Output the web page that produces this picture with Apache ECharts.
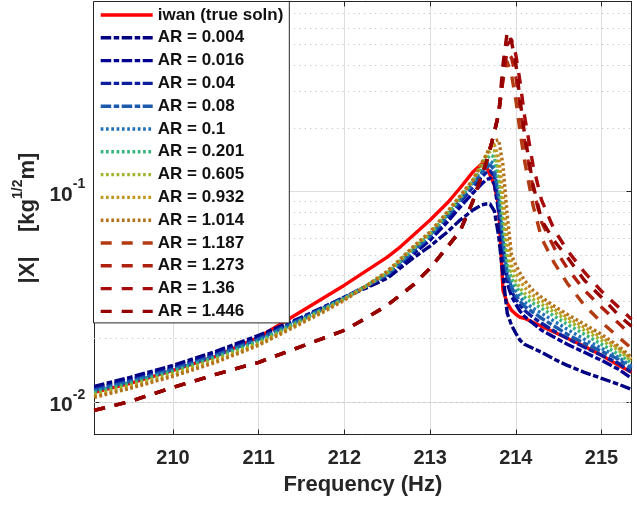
<!DOCTYPE html>
<html>
<head>
<meta charset="utf-8">
<script src="https://cdn.jsdelivr.net/npm/echarts@6/dist/echarts.min.js"></script>
<style>
html,body{margin:0;padding:0;background:#fff;}
#chart{width:637px;height:505px;}
</style>
</head>
<body>
<div id="chart"></div>
<script>
// ---- data ----
const freq = [209.08, 209.5, 210, 210.5, 211, 211.5, 211.75, 212, 212.25, 212.5, 212.65, 212.8, 213.0, 213.2, 213.35, 213.5, 213.6, 213.65, 213.7, 213.75, 213.8, 213.85, 213.9, 213.95, 214.0, 214.05, 214.1, 214.2, 214.3, 214.45, 214.6, 214.8, 215.0, 215.2, 215.35];

const iwan = [0.01109, 0.01225, 0.01413, 0.01647, 0.02028, 0.02697, 0.03111, 0.03587, 0.04181, 0.04876, 0.05443, 0.06172, 0.07316, 0.08816, 0.1039, 0.1239, 0.1352, 0.1338, 0.1198, 0.1073, 0.08531, 0.03396, 0.02945, 0.02727, 0.02610, 0.02525, 0.02498, 0.02391, 0.02288, 0.02142, 0.02006, 0.01838, 0.01665, 0.01492, 0.01382];
const ar0004 = [0.01185, 0.01309, 0.01492, 0.01740, 0.02073, 0.02525, 0.02818, 0.03145, 0.03471, 0.03872, 0.04322, 0.04823, 0.05503, 0.06414, 0.07316, 0.08165, 0.08625, 0.08720, 0.08720, 0.08076, 0.06138, 0.04001, 0.02639, 0.02314, 0.02119, 0.01963, 0.01879, 0.01798, 0.01721, 0.01594, 0.01492, 0.01382, 0.01294, 0.01212, 0.01147];
const ar0016 = [0.01160, 0.01280, 0.01460, 0.01702, 0.02028, 0.02498, 0.02787, 0.03145, 0.03509, 0.03958, 0.04466, 0.05039, 0.05877, 0.07157, 0.08438, 0.09841, 0.1085, 0.1134, 0.1160, 0.1085, 0.07988, 0.05151, 0.03666, 0.03180, 0.02912, 0.02697, 0.02553, 0.02365, 0.02190, 0.02028, 0.01879, 0.01721, 0.01576, 0.01428, 0.01294];
const ar004 = [0.01147, 0.01266, 0.01444, 0.01683, 0.02006, 0.02498, 0.02787, 0.03145, 0.03548, 0.04001, 0.04516, 0.05151, 0.06072, 0.07479, 0.08913, 0.1050, 0.1172, 0.1225, 0.1252, 0.1185, 0.08816, 0.05563, 0.03872, 0.03359, 0.03077, 0.02881, 0.02727, 0.02525, 0.02365, 0.02166, 0.02006, 0.01818, 0.01665, 0.01525, 0.01382];
const ar008 = [0.01134, 0.01252, 0.01428, 0.01665, 0.01984, 0.02471, 0.02787, 0.03111, 0.03548, 0.04046, 0.04565, 0.05208, 0.06138, 0.07645, 0.09111, 0.1085, 0.1225, 0.1294, 0.1338, 0.1266, 0.09418, 0.05877, 0.04046, 0.03509, 0.03215, 0.03010, 0.02849, 0.02668, 0.02498, 0.02288, 0.02096, 0.01899, 0.01740, 0.01594, 0.01444];
const ar01 = [0.01122, 0.01239, 0.01413, 0.01647, 0.01963, 0.02471, 0.02757, 0.03111, 0.03548, 0.04046, 0.04616, 0.05265, 0.06206, 0.07729, 0.09214, 0.1109, 0.1266, 0.1352, 0.1398, 0.1352, 0.1017, 0.06344, 0.04227, 0.03666, 0.03359, 0.03145, 0.02977, 0.02787, 0.02639, 0.02417, 0.02214, 0.01984, 0.01798, 0.01629, 0.01476];
const ar0201 = [0.01109, 0.01225, 0.01398, 0.01629, 0.01942, 0.02444, 0.02757, 0.03111, 0.03548, 0.04090, 0.04667, 0.05325, 0.06275, 0.07815, 0.09316, 0.1122, 0.1309, 0.1413, 0.1492, 0.1460, 0.1134, 0.06926, 0.04466, 0.03872, 0.03548, 0.03322, 0.03145, 0.02945, 0.02787, 0.02553, 0.02339, 0.02096, 0.01879, 0.01683, 0.01525];
const ar0605 = [0.01085, 0.01199, 0.01367, 0.01594, 0.01899, 0.02417, 0.02727, 0.03077, 0.03548, 0.04135, 0.04718, 0.05383, 0.06344, 0.07901, 0.09418, 0.1134, 0.1338, 0.1460, 0.1559, 0.1559, 0.1266, 0.07988, 0.04984, 0.04135, 0.03748, 0.03471, 0.03286, 0.03077, 0.02912, 0.02668, 0.02444, 0.02190, 0.01963, 0.01759, 0.01559];
const ar0932 = [0.01062, 0.01172, 0.01338, 0.01559, 0.01879, 0.02391, 0.02697, 0.03077, 0.03548, 0.04135, 0.04718, 0.05443, 0.06414, 0.07988, 0.09522, 0.1134, 0.1352, 0.1492, 0.1611, 0.1665, 0.1444, 0.09627, 0.05877, 0.04466, 0.04090, 0.03789, 0.03509, 0.03215, 0.03043, 0.02757, 0.02525, 0.02263, 0.02028, 0.01798, 0.01594];
const ar1014 = [0.01050, 0.01160, 0.01323, 0.01542, 0.01858, 0.02365, 0.02668, 0.03043, 0.03548, 0.04181, 0.04770, 0.05443, 0.06414, 0.07988, 0.09522, 0.1134, 0.1367, 0.1476, 0.1629, 0.1740, 0.1759, 0.1338, 0.07729, 0.04984, 0.04466, 0.04090, 0.03789, 0.03396, 0.03145, 0.02849, 0.02610, 0.02339, 0.02096, 0.01838, 0.01629];
const ar1187 = [0.00911, 0.01006, 0.01172, 0.01352, 0.01542, 0.01838, 0.02006, 0.02190, 0.02498, 0.02881, 0.03215, 0.03587, 0.04322, 0.05443, 0.06484, 0.09012, 0.1185, 0.1352, 0.1594, 0.1920, 0.2339, 0.3396, 0.4135, 0.3587, 0.2727, 0.1920, 0.1413, 0.08625, 0.06005, 0.04565, 0.03666, 0.02881, 0.02391, 0.02028, 0.01798];
const ar1273 = [0.00911, 0.01006, 0.01172, 0.01352, 0.01542, 0.01838, 0.02006, 0.02190, 0.02498, 0.02881, 0.03215, 0.03587, 0.04322, 0.05443, 0.06484, 0.09012, 0.1185, 0.1352, 0.1594, 0.1920, 0.2339, 0.3587, 0.4616, 0.4322, 0.3509, 0.2498, 0.1759, 0.1039, 0.07157, 0.05383, 0.04322, 0.03396, 0.02818, 0.02365, 0.02073];
const ar136 = [0.00911, 0.01006, 0.01172, 0.01352, 0.01542, 0.01838, 0.02006, 0.02190, 0.02498, 0.02881, 0.03215, 0.03587, 0.04322, 0.05443, 0.06484, 0.09012, 0.1185, 0.1352, 0.1594, 0.1920, 0.2339, 0.3396, 0.4984, 0.5265, 0.4466, 0.3322, 0.2314, 0.1338, 0.09111, 0.06556, 0.05265, 0.04135, 0.03359, 0.02818, 0.02471];
const ar1446 = [0.00911, 0.01006, 0.01172, 0.01352, 0.01542, 0.01838, 0.02006, 0.02190, 0.02498, 0.02881, 0.03215, 0.03587, 0.04322, 0.05443, 0.06484, 0.09012, 0.1185, 0.1352, 0.1594, 0.1920, 0.2339, 0.4001, 0.5749, 0.5151, 0.4046, 0.2727, 0.1899, 0.1085, 0.07316, 0.05813, 0.04876, 0.03789, 0.03145, 0.02581, 0.02288];

const seriesNames = ['iwan (true soln)', 'AR = 0.004', 'AR = 0.016', 'AR = 0.04', 'AR = 0.08', 'AR = 0.1', 'AR = 0.201', 'AR = 0.605', 'AR = 0.932', 'AR = 1.014', 'AR = 1.187', 'AR = 1.273', 'AR = 1.36', 'AR = 1.446'];
const seriesValues = [iwan, ar0004, ar0016, ar004, ar008, ar01, ar0201, ar0605, ar0932, ar1014, ar1187, ar1273, ar136, ar1446];

const xTicks = [210, 211, 212, 213, 214, 215];
const yMinorGrid = [0.008, 0.009, 0.02, 0.03, 0.04, 0.05, 0.06, 0.07, 0.08, 0.09, 0.2, 0.3, 0.4, 0.5, 0.6, 0.7];
const xRange = [209.08, 215.35];
const yRange = [0.007, 0.8];

// ---- styles ----
const dashDot = [10.5, 2.5, 5.5, 2.5];
const dotted = [2.7, 2.6];
const dashed = [11, 10];
const styles = [
  {color: '#ff0000', type: 'solid'},
  {color: '#000080', type: dashDot},
  {color: '#000092', type: dashDot},
  {color: '#0d1f9e', type: dashDot},
  {color: '#1c5aad', type: dashDot},
  {color: '#1f72b8', type: dotted},
  {color: '#36b57f', type: dotted},
  {color: '#9bb52e', type: dotted},
  {color: '#c3961d', type: dotted},
  {color: '#b5721c', type: dotted},
  {color: '#b33b12', type: dashed},
  {color: '#b0200f', type: dashed},
  {color: '#a60a0a', type: dashed},
  {color: '#950000', type: dashed}
];
const LW = 3.4;

const FONT = "'Liberation Sans', Arial, Helvetica, sans-serif";
const AX = '#262626';

const series = seriesNames.map((name, k) => ({
  name: name,
  type: 'line',
  symbol: 'none',
  symbolSize: 0,
  showSymbol: false,
  animation: false,
  clip: true,
  data: freq.map((f, i) => [f, seriesValues[k][i]]),
  lineStyle: {color: styles[k].color, width: LW, type: styles[k].type, cap: 'butt', join: 'round'},
  itemStyle: {color: styles[k].color},
  emphasis: {disabled: true}
}));

series.unshift({
  name: 'minorGrid',
  type: 'line',
  data: [],
  silent: true,
  animation: false,
  markLine: {
    silent: true,
    z: 1,
    symbol: 'none',
    animation: false,
    label: {show: false},
    lineStyle: {color: '#c4c4c4', width: 1, type: [1.2, 4.2]},
    emphasis: {disabled: true},
    data: yMinorGrid.map(v => ({yAxis: v}))
  }
});

const yLabelFmt = function (val) {
  const e = Math.round(Math.log10(val));
  const p = Math.pow(10, e);
  if (Math.abs(val - p) / p < 1e-6) return '{b|10}{s|' + e + '}';
  return '';
};

const chart = echarts.init(document.getElementById('chart'), null, {renderer: 'canvas'});
chart.setOption({
  animation: false,
  backgroundColor: '#ffffff',
  grid: {left: 94.2, right: 5.5, top: 1.5, bottom: 70.5, containLabel: false},
  legend: {
    data: seriesNames,
    orient: 'vertical',
    left: 93.5,
    top: 1.5,
    padding: [5, 6, 3, 5.5],
    itemWidth: 52,
    itemHeight: 14,
    itemGap: 5.8,
    backgroundColor: '#ffffff',
    borderColor: AX,
    borderWidth: 1,
    borderRadius: 0,
    selectedMode: false,
    itemStyle: {opacity: 0, borderWidth: 0},
    lineStyle: {width: LW},
    textStyle: {fontFamily: FONT, fontWeight: 'bold', fontSize: 17, color: '#111', lineHeight: 17}
  },
  xAxis: [{
    type: 'value',
    min: xRange[0], max: xRange[1],
    position: 'bottom',
    name: 'Frequency (Hz)',
    nameLocation: 'middle',
    nameGap: 39,
    nameTextStyle: {fontFamily: FONT, fontWeight: 'bold', fontSize: 22, color: AX},
    axisLine: {show: true, onZero: false, lineStyle: {color: AX, width: 1}},
    axisTick: {show: true, inside: true, length: 5, lineStyle: {color: AX}, customValues: xTicks},
    axisLabel: {show: true, margin: 14, fontFamily: FONT, fontWeight: 'bold', fontSize: 20, color: AX, customValues: xTicks, formatter: v => String(Math.round(v))},
    splitLine: {show: true, lineStyle: {color: '#dedede', width: 1}},
    minorSplitLine: {show: false}
  }, {
    type: 'value',
    min: xRange[0], max: xRange[1],
    position: 'top',
    axisLine: {show: true, onZero: false, lineStyle: {color: AX, width: 1}},
    axisTick: {show: true, inside: true, length: 5, lineStyle: {color: AX}, customValues: xTicks},
    axisLabel: {show: false, customValues: xTicks},
    splitLine: {show: false}
  }],
  yAxis: [{
    type: 'log',
    logBase: 10,
    min: yRange[0], max: yRange[1],
    position: 'left',
    name: '{a||X|    [kg}{s|1/2}{a|m]}',
    nameLocation: 'middle',
    nameGap: 52,
    nameRotate: 90,
    nameTextStyle: {
      rich: {
        a: {fontFamily: FONT, fontWeight: 'bold', fontSize: 22, color: AX, lineHeight: 27, verticalAlign: 'bottom'},
        s: {fontFamily: FONT, fontWeight: 'bold', fontSize: 14, color: AX, lineHeight: 14, verticalAlign: 'top'}
      }
    },
    axisLine: {show: true, onZero: false, lineStyle: {color: AX, width: 1}},
    axisTick: {show: true, inside: true, length: 5, lineStyle: {color: AX}},
    axisLabel: {
      show: true, margin: 9, formatter: yLabelFmt,
      rich: {
        b: {fontFamily: FONT, fontWeight: 'bold', fontSize: 21, color: AX, lineHeight: 28, verticalAlign: 'bottom'},
        s: {fontFamily: FONT, fontWeight: 'bold', fontSize: 14, color: AX, lineHeight: 14, verticalAlign: 'top'}
      }
    },
    splitLine: {show: true, lineStyle: {color: '#dedede', width: 1}}
  }, {
    type: 'log',
    logBase: 10,
    min: yRange[0], max: yRange[1],
    position: 'right',
    axisLine: {show: true, onZero: false, lineStyle: {color: AX, width: 1}},
    axisTick: {show: true, inside: true, length: 5, lineStyle: {color: AX}},
    axisLabel: {show: false},
    splitLine: {show: false}
  }],
  series: series
});
</script>
</body>
</html>
